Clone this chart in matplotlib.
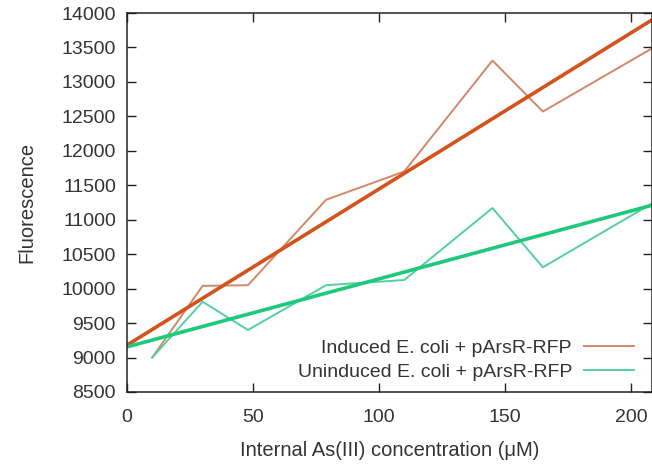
import numpy as np
import matplotlib
matplotlib.use('Agg')
import matplotlib.pyplot as plt

conc = [10, 30, 48, 79, 110, 145, 165, 208]
induced = [9000, 10040, 10050, 11290, 11700, 13310, 12570, 13480]
uninduced = [9000, 9810, 9400, 10050, 10125, 11170, 10310, 11230]

# straight fits, given as end points
fit_x = [0, 208.3]
induced_fit = [9180, 13900]
uninduced_fit = [9155, 11210]

labels = ['Induced E. coli + pArsR-RFP', 'Uninduced E. coli + pArsR-RFP']
xticks = [0, 50, 100, 150, 200]
yticks = list(range(8500, 14001, 500))

plt.rcParams['font.family'] = ['Liberation Sans', 'DejaVu Sans']
txt = '#333333'

fig = plt.figure(figsize=(6.52, 4.66), dpi=100)
ax = fig.add_axes([127 / 652, 74 / 466, 525 / 652, 379 / 466])

l1, = ax.plot(conc, induced, color='#d4866a', lw=1.4, label=labels[0])
l2, = ax.plot(conc, uninduced, color='#52d0a0', lw=1.4, label=labels[1])
ax.plot(fit_x, induced_fit, color='#d4531c', lw=2.6)
ax.plot(fit_x, uninduced_fit, color='#1ec97c', lw=2.6)

ax.set_xlim(0, 208.3)
ax.set_ylim(8500, 14000)
ax.set_xticks(xticks)
ax.set_yticks(yticks)
ax.tick_params(direction='in', length=6.5, width=1, top=True, right=True,
               labelsize=14, colors='#222222', labelcolor=txt)
ax.tick_params(axis='x', pad=12)
ax.tick_params(axis='y', pad=8)
for s in ax.spines.values():
    s.set_color('#222222')
    s.set_linewidth(1.1)

ax.set_xlabel('Internal As(III) concentration (\u03bcM)', fontsize=14.5, color=txt, labelpad=11)
ax.set_ylabel('Fluorescence', fontsize=14.5, color=txt, labelpad=18)

ax.legend(handles=[l1, l2], loc='lower right', bbox_to_anchor=(0.966, 0.03),
          markerfirst=False, frameon=False, fontsize=14, handlelength=2.6,
          handletextpad=0.6, labelspacing=0.3, borderpad=0, borderaxespad=0,
          labelcolor=txt)

fig.savefig('out.png', dpi=100)
